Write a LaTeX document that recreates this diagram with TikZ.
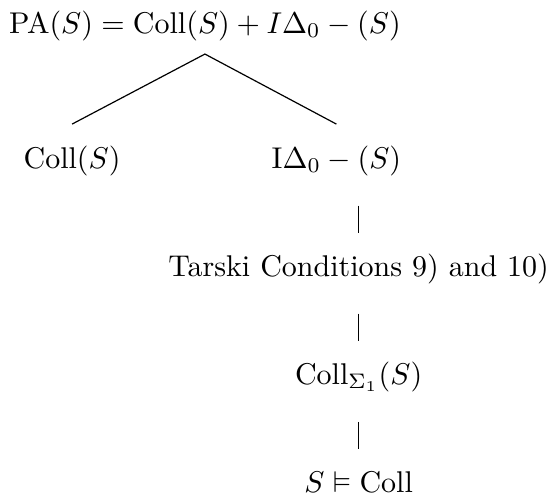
\documentclass[tikz,border=0pt]{standalone}
\usepackage{amssymb}
\usepackage{tikz}

\begin{document}
\begin{tikzpicture}[
        % ----- Styles -----
            term/.style={anchor=base, inner sep=0pt, font=\normalsize},
            branch/.style={thin},
            bar/.style={thin, shorten <=12.5pt, shorten >=14.5pt}
        ]

        \useasboundingbox (0,0) rectangle (6.50,-5.88);

% ===================== Wurzel ==================================
        \node[term] (pa) at (2.40,-0.39)
            {$\mathrm{PA}(S) = \mathrm{Coll}(S) + I\Delta_0 - (S)$};

% ===================== Erste Ebene =============================
        \node[term] (coll) at (0.844,-1.97) {$\mathrm{Coll}(S)$};
        \node[term] (ida)  at (3.94,-1.97)  {$\mathrm{I}\Delta_0 - (S)$};

% ===================== Kette unter I Delta_0 ===================
        \node[term] (tarski)  at (4.20,-3.235) {Tarski Conditions 9) and 10)};
        \node[term] (collsig) at (4.20,-4.50)  {$\mathrm{Coll}_{\Sigma_1}(S)$};
        \node[term] (models)  at (4.20,-5.765) {$S \vDash \mathrm{Coll}$};

% ===================== Verzweigung =============================
        \coordinate (fork) at (2.40,-0.633);
        \draw[branch] ([yshift=14.7pt]coll.base) -- (fork)
            -- ([yshift=14.7pt]ida.base);

% ===================== Senkrechte Striche ======================
        \draw[bar] (ida.base -| tarski.base) -- (tarski.base);
        \draw[bar] (tarski.base) -- (collsig.base);
        \draw[bar] (collsig.base) -- (models.base);

\end{tikzpicture}
\end{document}
